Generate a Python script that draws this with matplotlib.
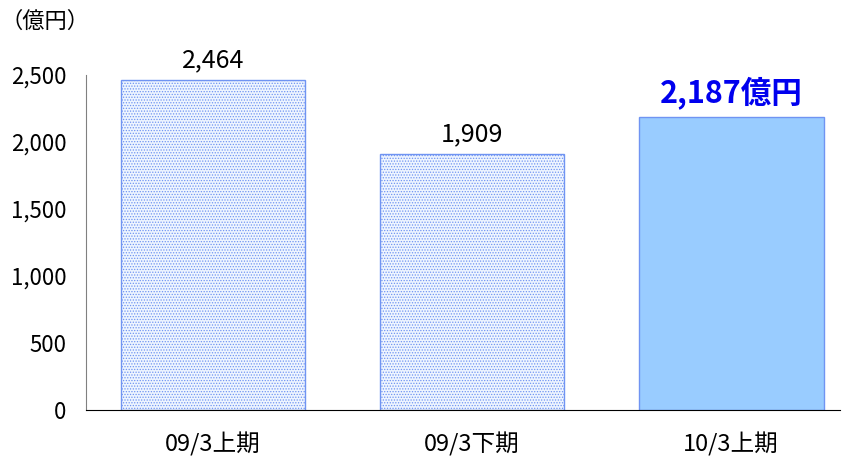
import matplotlib.pyplot as plt

plt.rcParams['font.family'] = ['Noto Sans CJK JP', 'DejaVu Sans']

categories = ['09/3上期', '09/3下期', '10/3上期']
values = [2464, 1909, 2187]
value_labels = ['2,464', '1,909', '2,187億円']
yticks = [0, 500, 1000, 1500, 2000, 2500]
ytick_labels = ['0', '500', '1,000', '1,500', '2,000', '2,500']

fig = plt.figure(figsize=(8.46, 4.59), dpi=100)
ax = fig.add_axes([86 / 846, 1 - 410 / 459, 754 / 846, 335 / 459])

x = range(len(categories))
plt.rcParams['hatch.color'] = '#bcd7f8'
plt.rcParams['hatch.linewidth'] = 0.6
bars = ax.bar(x, values, width=0.713, color=['#eef5ff', '#eef5ff', '#99ccff'],
              edgecolor='#7094f2', linewidth=1.0)
bars[0].set_hatch('......')
bars[1].set_hatch('......')

for i, (v, lab) in enumerate(zip(values, value_labels)):
    if i == 2:
        ax.annotate(lab, (i, v), xytext=(0, 5), textcoords='offset points',
                    ha='center', va='bottom', fontsize=22, fontweight='bold',
                    color='#0000ee')
    else:
        ax.annotate(lab, (i, v), xytext=(0, 5), textcoords='offset points',
                    ha='center', va='bottom', fontsize=18, color='black')

ax.set_xlim(-0.49, 2.42)
ax.set_ylim(0, 2500)
ax.set_yticks(yticks)
ax.set_yticklabels(ytick_labels, fontsize=16)
ax.set_xticks(list(x))
ax.set_xticklabels(categories, fontsize=17)
ax.tick_params(axis='both', length=0)
ax.tick_params(axis='y', pad=14)
ax.tick_params(axis='x', pad=16)
ax.spines['top'].set_visible(False)
ax.spines['right'].set_visible(False)
ax.spines['left'].set_color('#808080')
ax.spines['bottom'].set_color('black')

fig.text(0, 1 - 21 / 459, '（億円）', fontsize=16, va='center', ha='left')

fig.savefig('out.png', dpi=100)
